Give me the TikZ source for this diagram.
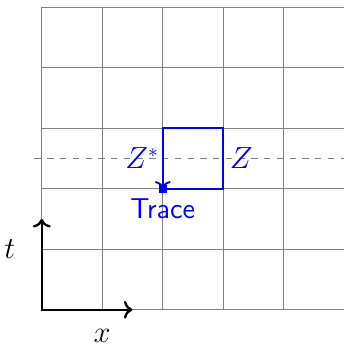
\documentclass[tikz,border=0pt]{standalone}
\usepackage{tikz}
\usetikzlibrary{arrows.meta, positioning}
\tikzset{
    gridline/.style={draw=gray, line width=0.4pt},
    midline/.style={dashed, gray},
    axis/.style={<->, line width=1.1pt, black},
    cellpath/.style={->, line width=0.9pt, blue},
    lbl/.style={text=blue, inner sep=1.5pt},
    axlabel/.style={inner sep=0.5pt},
    marker/.style={rectangle, fill=blue, inner sep=0pt, minimum size=1.3mm},
    every node/.style={font=\fontsize{13.5}{16}\selectfont}
}

\begin{document}
\begin{tikzpicture}
    \useasboundingbox (-0.69,-0.6) rectangle (4.99,5.12);
    \draw [gridline] (0,0) grid (4.99,5);

    % dashed middle line
    \coordinate (ml) at (-0.12,2.5);
    \coordinate (mr) at (4.99,2.5);
    \draw [midline] (ml) -- (mr);

    % the cell
    \coordinate (a) at (2,2);
    \coordinate (b) at (3,2);
    \coordinate (c) at (3,3);
    \coordinate (d) at (2,3);
    \coordinate (zl) at (2,2.5);
    \coordinate (zr) at (3,2.5);
    \draw [cellpath] (a) -- (b) -- (c) -- (d) -- (a);
    \node [marker] (mark) at (a) {};
    \node [lbl, font=\fontsize{13.5}{16}\sffamily, below=0.1cm of a] (trace) {Trace};
    \node [lbl, left=0pt of zl] (zstar) {$Z^*$};
    \node [lbl, right=0.05cm of zr] (zed) {$Z$};

    % axes
    \coordinate (o) at (0,0);
    \coordinate (xe) at (1.5,0);
    \coordinate (te) at (0,1.5);
    \draw [axis] (te) -- (o) -- (xe);
    \node [axlabel] (tlabel) at (-0.53,1) {$t$};
    \node [axlabel] (xlabel) at (1,-0.43) {$x$};
\end{tikzpicture}
\end{document}
